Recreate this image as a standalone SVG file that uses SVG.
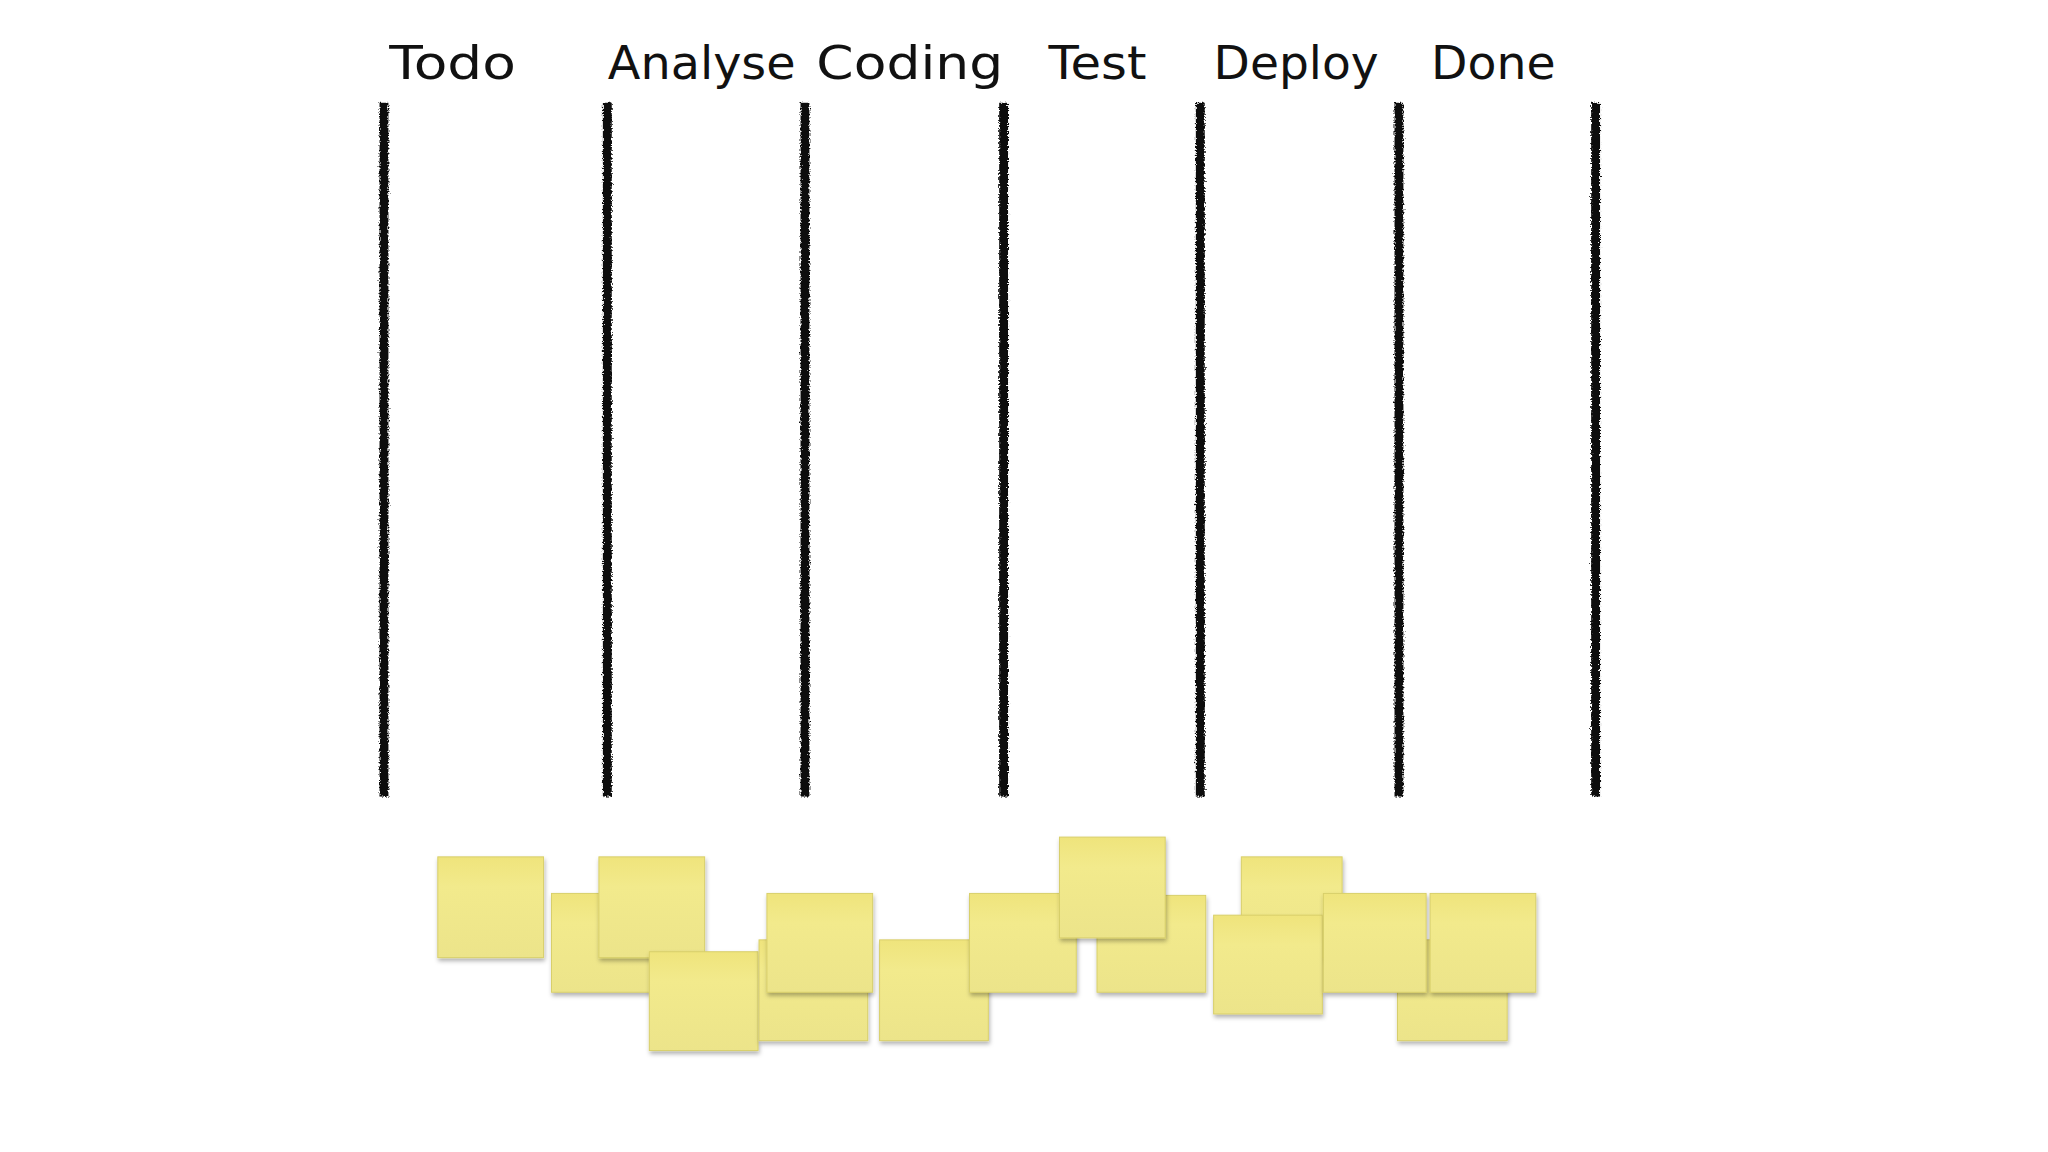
<svg xmlns="http://www.w3.org/2000/svg" width="2048" height="1152" viewBox="0 0 2048 1152">
<defs>
<filter id="rough" filterUnits="userSpaceOnUse" x="0" y="90" width="2048" height="730"><feTurbulence type="fractalNoise" baseFrequency="0.6" numOctaves="2" result="n"/><feDisplacementMap in="SourceGraphic" in2="n" scale="5"/></filter>
<linearGradient id="g" x1="0" y1="0" x2="0" y2="1"><stop offset="0" stop-color="#efe47c"/><stop offset="0.3" stop-color="#f2ea8c"/><stop offset="1" stop-color="#ece48a"/></linearGradient>
<filter id="sh" x="-10%" y="-10%" width="130%" height="130%"><feDropShadow dx="1" dy="3" stdDeviation="2" flood-color="#000" flood-opacity="0.3"/></filter>
</defs>
<style>
.col{fill:#111}
.lbl{font-family:"DejaVu Sans",sans-serif;font-size:46px;fill:#111}
.note{fill:url(#g);stroke:#d8cf6a;stroke-width:1;filter:url(#sh)}
</style>
<rect width="2048" height="1152" fill="#fff"/>
<g transform="scale(0.9883)">
<g id="labels">
<text class="lbl" x="394" y="80" textLength="128" lengthAdjust="spacingAndGlyphs">Todo</text>
<text class="lbl" x="615" y="80" textLength="190" lengthAdjust="spacingAndGlyphs">Analyse</text>
<text class="lbl" x="826" y="80" textLength="189" lengthAdjust="spacingAndGlyphs">Coding</text>
<text class="lbl" x="1061" y="80" textLength="99" lengthAdjust="spacingAndGlyphs">Test</text>
<text class="lbl" x="1228" y="80" textLength="167" lengthAdjust="spacingAndGlyphs">Deploy</text>
<text class="lbl" x="1448" y="80" textLength="126" lengthAdjust="spacingAndGlyphs">Done</text>
</g>
<g id="columns" filter="url(#rough)">
<rect class="col" x="384" y="104" width="9" height="702"/>
<rect class="col" x="610" y="104" width="9" height="702"/>
<rect class="col" x="810" y="104" width="9" height="702"/>
<rect class="col" x="1011" y="104" width="9" height="702"/>
<rect class="col" x="1210" y="104" width="9" height="702"/>
<rect class="col" x="1411" y="104" width="9" height="702"/>
<rect class="col" x="1610" y="104" width="9" height="702"/>
</g>
<g id="notes">
<rect id="n2" class="note" x="558" y="904" width="103" height="100"/>
<rect id="n1" class="note" x="443" y="867" width="107" height="102"/>
<rect id="n3" class="note" x="606" y="867" width="107" height="102"/>
<rect id="n4" class="note" x="657" y="963" width="110" height="100"/>
<rect id="n5" class="note" x="768" y="951" width="110" height="102"/>
<rect id="n6" class="note" x="776" y="904" width="107" height="100"/>
<rect id="n7" class="note" x="890" y="951" width="110" height="102"/>
<rect id="n9" class="note" x="1110" y="906" width="110" height="98"/>
<rect id="n8" class="note" x="981" y="904" width="108" height="100"/>
<rect id="n10" class="note" x="1072" y="847" width="107" height="102"/>
<rect id="n11" class="note" x="1256" y="867" width="102" height="102"/>
<rect id="n12" class="note" x="1228" y="926" width="110" height="100"/>
<rect id="n14" class="note" x="1414" y="951" width="111" height="102"/>
<rect id="n13" class="note" x="1339" y="904" width="104" height="100"/>
<rect id="n15" class="note" x="1447" y="904" width="107" height="100"/>
</g>
</g>
</svg>
